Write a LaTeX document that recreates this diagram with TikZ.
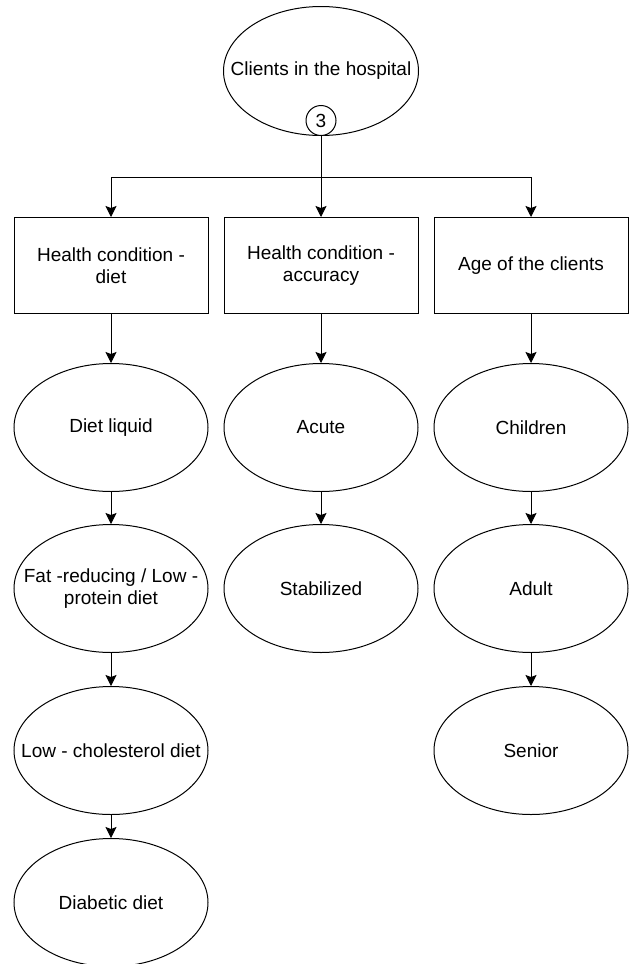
\documentclass[tikz,border=0pt]{standalone}
\usepackage{fontspec}
\setmainfont{Liberation Sans}
\usetikzlibrary{arrows.meta,shapes.geometric,positioning}

\begin{document}
\begin{tikzpicture}[x=1pt,y=1pt,line width=1pt]
\tikzstyle{every node}=[font=\fontsize{19}{22}\selectfont,align=center]
\tikzstyle{oval}=[ellipse,draw,minimum width=194pt,minimum height=128pt,inner xsep=-50pt,inner ysep=0pt]
\tikzstyle{box}=[rectangle,draw,minimum width=194pt,minimum height=96pt,inner sep=0pt]
\tikzstyle{badge}=[circle,draw,fill=white,minimum size=30pt,inner sep=0pt]
\tikzstyle{link}=[-{Stealth[length=11pt,width=11pt,inset=2pt]}]

\useasboundingbox (0,0) rectangle (629,-964);

\node[oval,minimum width=195pt,minimum height=129pt] (top) at (321,-71) {Clients in the hospital};
\node[badge,above=0pt of top.south] (cnt) {3};
\coordinate[below=41.5pt of cnt.south] (hub);

\node[box,below=81pt of top] (h2) {Health condition -\\accuracy};
\node[box,left=15pt of h2] (h1) {Health condition -\\diet};
\node[box,right=15pt of h2] (h3) {Age of the clients};

\node[oval,below=49pt of h1] (d1) {Diet liquid};
\node[oval,below=32pt of d1] (d2) {Fat -reducing / Low -\\protein diet};
\node[oval,below=33pt of d2] (d3) {Low - cholesterol diet};
\node[oval,below=23pt of d3] (d4) {Diabetic diet};

\node[oval,below=49pt of h2] (a1) {Acute};
\node[oval,below=32pt of a1] (a2) {Stabilized};

\node[oval,below=49pt of h3] (g1) {Children};
\node[oval,below=32pt of g1] (g2) {Adult};
\node[oval,below=33pt of g2] (g3) {Senior};

\draw (cnt) -- (hub);
\draw[link] (hub) -| (h1);
\draw[link] (hub) -- (h2);
\draw[link] (hub) -| (h3);

\draw[link] (h1) -- (d1);
\draw[link] (d1) -- (d2);
\draw[link] (d2) -- (d3);
\draw[link] (d3) -- (d4);

\draw[link] (h2) -- (a1);
\draw[link] (a1) -- (a2);

\draw[link] (h3) -- (g1);
\draw[link] (g1) -- (g2);
\draw[link] (g2) -- (g3);
\end{tikzpicture}
\end{document}
